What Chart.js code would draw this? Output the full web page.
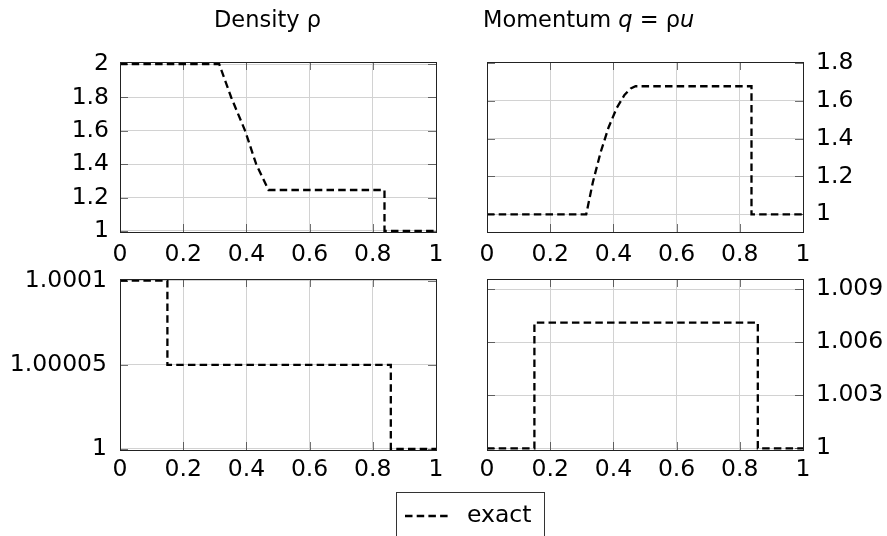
<!DOCTYPE html>
<html>
<head>
<meta charset="utf-8">
<script src="https://cdn.jsdelivr.net/npm/chart.js@4.4.0/dist/chart.umd.min.js"></script>
<style>
  body { margin: 0; background: #fff; }
  #wrap { position: relative; width: 887px; height: 536px; overflow: hidden; font-family: 'DejaVu Sans'; color: #000; }
  canvas { position: absolute; left: 0; top: 0; }
  .ttl { position: absolute; font-size: 22.5px; line-height: 22.5px; white-space: nowrap; }
  #legend { position: absolute; left: 396px; top: 492px; width: 149px; height: 60px; border: 1px solid #333; box-sizing: border-box; }
  #legend svg { position: absolute; left: 8px; top: 20px; }
  #legend span { position: absolute; left: 70px; top: 10px; font-size: 23.5px; line-height: 23.5px; }
</style>
</head>
<body>
<div id="wrap">
  <canvas id="rho" width="887" height="536"></canvas>
  <canvas id="mom" width="887" height="536"></canvas>
  <canvas id="rhoPert" width="887" height="536"></canvas>
  <canvas id="momPert" width="887" height="536"></canvas>
  <div class="ttl" style="left:214px;top:8px">Density ρ</div>
  <div class="ttl" style="left:483px;top:8px">Momentum <i>q</i> = ρ<i>u</i></div>
  <div id="legend">
    <svg width="46" height="6"><line x1="0" y1="3" x2="46" y2="3" stroke="#000" stroke-width="2.3" stroke-dasharray="7.5 4.2"/></svg>
    <span>exact</span>
  </div>
</div>
<script>
// x axis, shared by all four panels
const xTicks = [0, 0.2, 0.4, 0.6, 0.8, 1];
const xTickLabels = ['0', '0.2', '0.4', '0.6', '0.8', '1'];

// density (top left)
const rhoX = [0, 0.314, 0.352, 0.396, 0.431, 0.47, 0.837, 0.837, 1];
const rhoY = [2, 2, 1.8, 1.6, 1.4, 1.245, 1.245, 1, 1];
const rhoTicks = [1, 1.2, 1.4, 1.6, 1.8, 2];
const rhoTickLabels = ['1', '1.2', '1.4', '1.6', '1.8', '2'];

// momentum (top right)
const momX = [0, 0.314, 0.335, 0.36, 0.385, 0.41, 0.435, 0.455, 0.47, 0.837, 0.837, 1];
const momY = [1, 1, 1.17, 1.33, 1.46, 1.56, 1.63, 1.665, 1.676, 1.676, 1, 1];
const momTicks = [1, 1.2, 1.4, 1.6, 1.8];
const momTickLabels = ['1', '1.2', '1.4', '1.6', '1.8'];

// small perturbation, density (bottom left)
const rhoPertX = [0, 0.15, 0.15, 0.857, 0.857, 1];
const rhoPertY = [1.0001, 1.0001, 1.00005, 1.00005, 1, 1];
const rhoPertTicks = [1, 1.00005, 1.0001];
const rhoPertTickLabels = ['1', '1.00005', '1.0001'];

// small perturbation, momentum (bottom right)
const momPertX = [0, 0.15, 0.15, 0.857, 0.857, 1];
const momPertY = [1, 1, 1.0071, 1.0071, 1, 1];
const momPertTicks = [1, 1.003, 1.006, 1.009];
const momPertTickLabels = ['1', '1.003', '1.006', '1.009'];

Chart.defaults.font.family = 'DejaVu Sans';
Chart.defaults.font.size = 23.5;
Chart.defaults.color = '#000';

// frame box + short dark ticks inside it (pgfplots look)
const framePlugin = {
  id: 'frame',
  afterDatasetsDraw(chart) {
    const { ctx, chartArea: a, scales } = chart;
    const len = 8;
    ctx.save();
    ctx.lineWidth = 1;
    ctx.strokeStyle = 'rgba(0,0,0,0.55)';
    ctx.beginPath();
    scales.x.ticks.forEach(t => {
      const px = Math.round(scales.x.getPixelForValue(t.value)) + 0.5;
      ctx.moveTo(px, a.top); ctx.lineTo(px, a.top + len);
      ctx.moveTo(px, a.bottom); ctx.lineTo(px, a.bottom - len);
    });
    scales.y.ticks.forEach(t => {
      const py = Math.round(scales.y.getPixelForValue(t.value)) + 0.5;
      ctx.moveTo(a.left, py); ctx.lineTo(a.left + len, py);
      ctx.moveTo(a.right, py); ctx.lineTo(a.right - len, py);
    });
    ctx.stroke();
    ctx.strokeStyle = '#222';
    ctx.strokeRect(Math.round(a.left) + 0.5, Math.round(a.top) + 0.5, Math.round(a.width), Math.round(a.height));
    ctx.restore();
  }
};

function panel(id, xs, ys, yTicks, yLabels, o) {
  const pts = xs.map((x, i) => ({ x: x, y: ys[i] }));
  return new Chart(document.getElementById(id), {
    type: 'line',
    data: {
      datasets: [{
        data: pts,
        borderColor: '#000',
        borderWidth: 2.3,
        borderDash: [7.5, 4.2],
        pointRadius: 0,
        tension: 0,
        fill: false
      }]
    },
    options: {
      responsive: false,
      animation: false,
      events: [],
      layout: { padding: o.pad },
      plugins: { legend: { display: false }, tooltip: { enabled: false } },
      scales: {
        x: {
          type: 'linear',
          min: 0,
          max: 1,
          afterBuildTicks: s => { s.ticks = xTicks.map(v => ({ value: v })); },
          afterFit: s => { s.height = 40; },
          ticks: { padding: o.xPad, maxRotation: 0, callback: (v, i) => xTickLabels[i] },
          grid: { color: '#d2d2d2', drawTicks: false },
          border: { display: false }
        },
        y: {
          type: 'linear',
          position: o.side,
          min: o.yMin,
          max: o.yMax,
          afterBuildTicks: s => { s.ticks = yTicks.map(v => ({ value: v })); },
          afterFit: s => { s.width = o.yWidth; },
          ticks: { padding: o.yPad, callback: (v, i) => yLabels[i] },
          grid: { color: '#d2d2d2', drawTicks: false },
          border: { display: false }
        }
      }
    },
    plugins: [framePlugin]
  });
}

panel('rho', rhoX, rhoY, rhoTicks, rhoTickLabels, {
  side: 'left', yWidth: 120, yMin: 0.993, yMax: 2.013, yPad: 11, xPad: 9,
  pad: { left: 0, top: 62, right: 451, bottom: 264 }
});
panel('mom', momX, momY, momTicks, momTickLabels, {
  side: 'right', yWidth: 84, yMin: 0.907, yMax: 1.804, yPad: 13, xPad: 9,
  pad: { left: 487, top: 62, right: 0, bottom: 264 }
});
panel('rhoPert', rhoPertX, rhoPertY, rhoPertTicks, rhoPertTickLabels, {
  side: 'left', yWidth: 120, yMin: 0.9999994, yMax: 1.000101, yPad: 13, xPad: 6,
  pad: { left: 0, top: 279, right: 451, bottom: 46 }
});
panel('momPert', momPertX, momPertY, momPertTicks, momPertTickLabels, {
  side: 'right', yWidth: 84, yMin: 0.999904, yMax: 1.009565, yPad: 13, xPad: 6,
  pad: { left: 487, top: 279, right: 0, bottom: 46 }
});
</script>
</body>
</html>
